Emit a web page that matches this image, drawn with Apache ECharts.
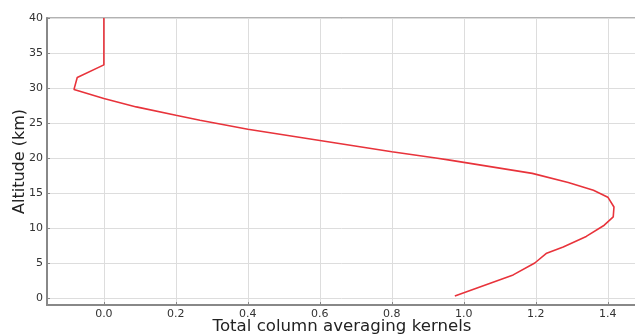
<!DOCTYPE html>
<html>
<head>
<meta charset="utf-8">
<style>
  html, body { margin: 0; padding: 0; background: #fff; }
  #chart { width: 635px; height: 336px; }
</style>
<script src="https://cdn.jsdelivr.net/npm/echarts@6/dist/echarts.min.js"></script>
</head>
<body>
<div id="chart"></div>
<script>
// Total column averaging kernel profile versus altitude
const altitudeKm = [40, 33.3, 31.5, 29.8, 28.5, 27.3, 26.1, 25.4, 24.1, 22.5, 20.9, 20.0, 19.7,
                    17.8, 16.5, 15.4, 14.4, 13.0, 11.6, 10.4, 8.8, 7.3, 6.4, 5.0, 3.3, 0.3];
const kernel     = [0.0, 0.0, -0.074, -0.083, 0.0, 0.09, 0.2, 0.267, 0.40, 0.60, 0.80, 0.922, 0.961,
                    1.19, 1.29, 1.36, 1.40, 1.417, 1.415, 1.39, 1.34, 1.276, 1.23, 1.197, 1.137, 0.975];
const xTicks = [0.0, 0.2, 0.4, 0.6, 0.8, 1.0, 1.2, 1.4];
const yTicks = [0, 5, 10, 15, 20, 25, 30, 35, 40];

const points = altitudeKm.map((a, i) => [kernel[i], a]);

const font = 'DejaVu Sans';
const chart = echarts.init(document.getElementById('chart'), null, { renderer: 'canvas' });
chart.setOption({
  animation: false,
  backgroundColor: '#fff',
  grid: {
    left: 47, right: -2, top: 18, bottom: 31,
    outerBoundsMode: 'none',
    show: true, borderColor: '#999', borderWidth: 1.5, containLabel: false
  },
  xAxis: {
    type: 'value',
    min: -0.158, max: 1.481,
    name: 'Total column averaging kernels',
    nameLocation: 'middle',
    nameGap: 13,
    nameMoveOverlap: false,
    nameTextStyle: { fontFamily: font, fontSize: 16.6, color: '#222', verticalAlign: 'top' },
    axisLine: { show: true, onZero: false, lineStyle: { color: '#888', width: 2 } },
    axisTick: { show: true, inside: true, length: 3, customValues: xTicks, lineStyle: { color: '#888' } },
    axisLabel: {
      customValues: xTicks, margin: 4,
      fontFamily: font, fontSize: 11, color: '#333',
      formatter: v => v.toFixed(1)
    },
    splitLine: { show: true, lineStyle: { color: '#ddd', width: 1 } }
  },
  yAxis: {
    type: 'value',
    min: -1, max: 40,
    name: 'Altitude (km)',
    nameLocation: 'middle',
    nameGap: 19,
    nameMoveOverlap: false,
    nameTextStyle: { fontFamily: font, fontSize: 16, color: '#222' },
    axisLine: { show: true, onZero: false, lineStyle: { color: '#888', width: 2 } },
    axisTick: { show: true, inside: true, length: 3, customValues: yTicks, lineStyle: { color: '#888' } },
    axisLabel: {
      customValues: yTicks, margin: 4,
      fontFamily: font, fontSize: 11, color: '#333'
    },
    splitLine: { show: true, lineStyle: { color: '#ddd', width: 1 } }
  },
  series: [{
    type: 'line',
    data: points,
    showSymbol: false,
    smooth: false,
    lineStyle: { color: '#e8333b', width: 1.6 },
    itemStyle: { color: '#e8333b' }
  }]
});
</script>
</body>
</html>
